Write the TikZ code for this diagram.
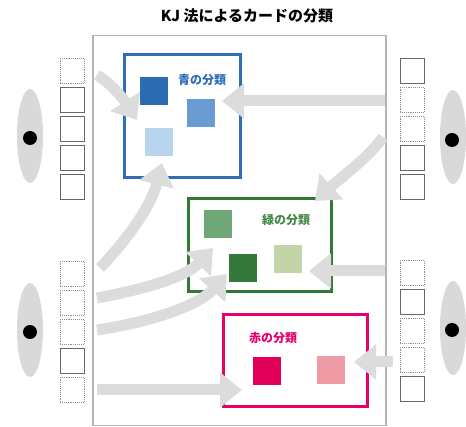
\documentclass[tikz,border=0pt]{standalone}
\usepackage{fontspec}
\setmainfont{Noto Sans CJK JP}
\usetikzlibrary{arrows.meta,shapes.geometric}

\definecolor{boardgray}{HTML}{B4B4B4}
\definecolor{arrowgray}{HTML}{DCDCDC}
\definecolor{eyegray}{HTML}{D9D9D9}
\definecolor{blueline}{HTML}{2F6DB5}
\definecolor{blueA}{HTML}{2B6CB3}
\definecolor{blueB}{HTML}{6A9BD3}
\definecolor{blueC}{HTML}{B9D4EE}
\definecolor{greenline}{HTML}{317A35}
\definecolor{greenA}{HTML}{70A777}
\definecolor{greenB}{HTML}{35783A}
\definecolor{greenC}{HTML}{C3D4A9}
\definecolor{redline}{HTML}{E5006A}
\definecolor{redA}{HTML}{E3005A}
\definecolor{redB}{HTML}{EF9BA6}

\begin{document}
\begin{tikzpicture}[x=1pt,y=-1pt]
                \tikzstyle{card}=[draw=black!60,line width=0.9pt,fill=white,minimum width=24pt,minimum height=25pt,inner sep=0pt]
                \tikzstyle{card2}=[card,draw=black!45,densely dotted]
                \tikzstyle{eye}=[ellipse,fill=eyegray,minimum width=26pt,minimum height=94pt,inner sep=0pt]
                \tikzstyle{pupil}=[circle,fill=black,minimum size=14pt,inner sep=0pt]
                \tikzstyle{group}=[draw,line width=3pt,inner sep=0pt]
                \tikzstyle{tile}=[minimum size=28pt,inner sep=0pt]
                \tikzstyle{label}=[font=\bfseries\fontsize{12}{12}\selectfont,inner sep=0pt]
                \tikzstyle{fat}=[arrowgray,line width=11pt,-{Triangle[length=22pt,width=34pt]}]

                \useasboundingbox (0,0) rectangle (466,427);
                \node[font=\bfseries\fontsize{15}{15}\selectfont] (title) at (247,16) {KJ 法によるカードの分類};
                \node[draw=boardgray,line width=1.4pt,minimum width=293pt,minimum height=390pt,inner sep=0pt] (board) at (239.5,230.5) {};

                % observers
                \foreach \num/\x/\y in {1/30/136, 2/30/330, 3/453/137, 4/453/328}
                        \node[eye] (E-\num) at (\x,\y) {};
                \foreach \num/\x/\y in {1/30/138, 2/30/332, 3/452/140, 4/452/330}
                        \node[pupil] (P-\num) at (\x,\y) {};

                % cards on the left
                \foreach \num/\y in {2/100, 3/129, 4/158, 5/187}
                        \node[card] (LA-\num) at (72,\y) {};
                \foreach \num/\y in {1/71}
                        \node[card2] (LA-\num) at (72,\y) {};
                \foreach \num/\y in {4/361}
                        \node[card] (LB-\num) at (72,\y) {};
                \foreach \num/\y in {1/274, 2/303, 3/332, 5/390}
                        \node[card2] (LB-\num) at (72,\y) {};

                % cards on the right
                \foreach \num/\y in {1/71, 4/158, 5/187}
                        \node[card] (RA-\num) at (412,\y) {};
                \foreach \num/\y in {2/100, 3/129}
                        \node[card2] (RA-\num) at (412,\y) {};
                \foreach \num/\y in {2/302, 5/389}
                        \node[card] (RB-\num) at (412,\y) {};
                \foreach \num/\y in {1/273, 3/331, 4/360}
                        \node[card2] (RB-\num) at (412,\y) {};

                % groups
                \node[group,draw=blueline,minimum width=116pt,minimum height=123pt] (blue) at (182,116.5) {};
                \node[group,draw=greenline,minimum width=143pt,minimum height=93pt] (green) at (259.5,245.5) {};
                \node[group,draw=redline,minimum width=144pt,minimum height=92pt] (red) at (295,361) {};

                \node[label,text=blueline] (blue-l) at (202,80) {青の分類};
                \node[label,text=greenline!90] (green-l) at (286,220) {緑の分類};
                \node[label,text=redline] (red-l) at (273,338) {赤の分類};

                \foreach \name/\c/\x/\y in {B-1/blueA/154/91, B-2/blueB/201/113.5, B-3/blueC/159/142.5,
                                             G-1/greenA/217.5/224, G-2/greenB/243/268, G-3/greenC/287.5/259.5,
                                             R-1/redA/267/371, R-2/redB/330.5/370}
                        \node[tile,fill=\c] (\name) at (\x,\y) {};

                % arrow ends
                \foreach \num/\x/\y in {1/97/75, 2/385/101, 3/383/137, 4/100/268, 5/97/298, 6/97/330, 7/97/390, 8/385/271, 9/393/362}
                        \coordinate (s\num) at (\x,\y);
                \foreach \num/\x/\y in {1/137/120, 2/222/101, 3/315/201, 4/162/163, 5/213/248, 6/227/274, 7/242/390, 8/309/271, 9/354/362}
                        \coordinate (t\num) at (\x,\y);

                \draw[fat] (s1) .. controls (112,84) and (124,100) .. (t1);
                \draw[fat] (s2) -- (t2);
                \draw[fat] (s3) .. controls (368,158) and (345,174) .. (t3);
                \draw[fat] (s4) .. controls (122,245) and (150,210) .. (t4);
                \draw[fat] (s5) .. controls (140,290) and (185,278) .. (t5);
                \draw[fat] (s6) .. controls (150,322) and (198,306) .. (t6);
                \draw[fat] (s7) -- (t7);
                \draw[fat] (s8) -- (t8);
                \draw[fat] (s9) -- (t9);
            \end{tikzpicture}
\end{document}
